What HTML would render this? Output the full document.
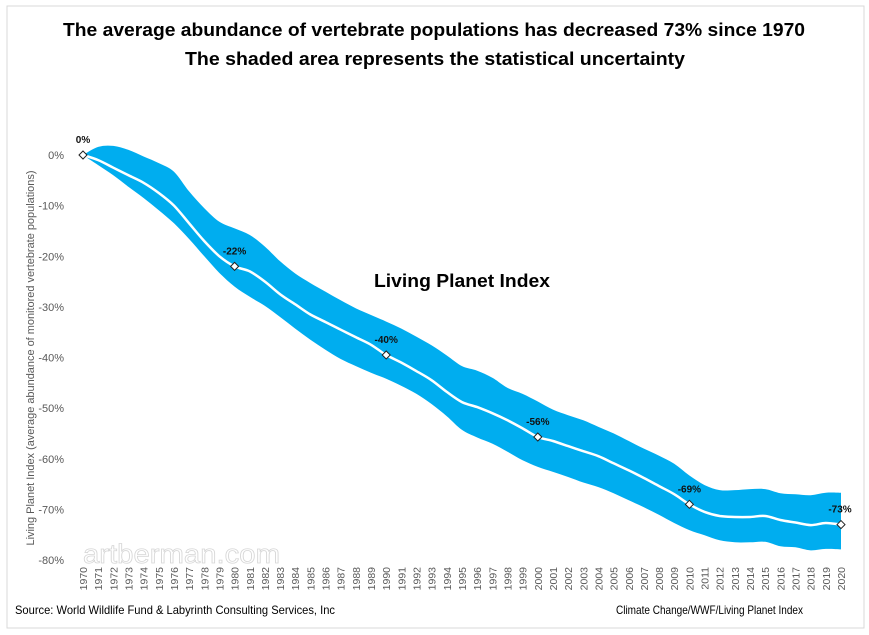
<!DOCTYPE html>
<html><head><meta charset="utf-8"><style>
html,body{margin:0;padding:0;background:#fff}
svg{display:block;font-family:"Liberation Sans",sans-serif}
</style></head><body>
<svg id="c" width="869" height="635" viewBox="0 0 869 635">
<rect x="7" y="6" width="857" height="622" fill="#fff" stroke="#d9d9d9"/>
<text x="434" y="36" text-anchor="middle" font-size="18" font-weight="bold" textLength="742" lengthAdjust="spacingAndGlyphs">The average abundance of vertebrate populations has decreased 73% since 1970</text>
<text x="435" y="65" text-anchor="middle" font-size="18" font-weight="bold" textLength="500" lengthAdjust="spacingAndGlyphs">The shaded area represents the statistical uncertainty</text>
<text transform="translate(34,358) rotate(-90)" text-anchor="middle" font-size="11" fill="#595959" textLength="375" lengthAdjust="spacingAndGlyphs">Living Planet Index (average abundance of monitored vertebrate populations)</text>
<text x="83" y="563" font-size="27" fill="none" stroke="#d6d6d6" stroke-width="0.8" textLength="197" lengthAdjust="spacingAndGlyphs">artberman.com</text>
<text x="462" y="287" text-anchor="middle" font-size="18" font-weight="bold" textLength="176" lengthAdjust="spacingAndGlyphs">Living Planet Index</text>
<text x="15" y="614" font-size="12" textLength="320" lengthAdjust="spacingAndGlyphs">Source: World Wildlife Fund &amp; Labyrinth Consulting Services, Inc</text>
<text x="616" y="614" font-size="12" textLength="187" lengthAdjust="spacingAndGlyphs">Climate Change/WWF/Living Planet Index</text>
<g id="plot"></g>
</svg>
<script>
const years=[1970,1971,1972,1973,1974,1975,1976,1977,1978,1979,1980,1981,1982,1983,1984,1985,1986,1987,1988,1989,1990,1991,1992,1993,1994,1995,1996,1997,1998,1999,2000,2001,2002,2003,2004,2005,2006,2007,2008,2009,2010,2011,2012,2013,2014,2015,2016,2017,2018,2019,2020];
const meanVals=[0,-1,-2.5,-4,-5.5,-7.5,-10,-13.5,-17,-20,-22,-23,-25,-27.5,-29.5,-31.5,-33,-34.5,-36,-37.5,-39.5,-41,-42.7,-44.5,-46.8,-48.8,-49.8,-51,-52.4,-54,-55.7,-56.5,-57.5,-58.5,-59.5,-60.9,-62.3,-63.8,-65.4,-67,-69,-70.5,-71.3,-71.5,-71.5,-71.3,-72.1,-72.6,-73.1,-72.7,-73];
const upperVals=[0,1.6,1.8,1,-0.3,-1.6,-3.3,-7.2,-10.5,-13.2,-14.5,-15.8,-18.1,-21,-23.4,-25.3,-27,-28.7,-30.3,-31.6,-32.9,-34.3,-35.9,-37.6,-39.6,-41.7,-42.6,-44,-46,-47.2,-48.7,-50.3,-51.4,-52.4,-53.7,-55,-56.5,-58,-59.4,-61,-63.3,-65.2,-66.2,-66.2,-66,-66,-66.8,-67,-67.2,-66.7,-66.7];
const lowerVals=[0,-2,-4,-6.3,-8.5,-10.9,-13.5,-16.6,-20,-23.3,-26,-28,-29.8,-32,-34.3,-36.5,-38.5,-40.3,-41.7,-43,-44.2,-45.6,-47.2,-49.2,-51.6,-54.3,-55.8,-57,-58.6,-60.3,-61.6,-62.6,-63.6,-64.7,-65.6,-66.8,-68.2,-69.6,-71.1,-72.7,-74.1,-75.1,-76.1,-76.5,-76.5,-76.4,-77.3,-77.5,-78.1,-77.8,-77.9];
const yTicks=[0,-10,-20,-30,-40,-50,-60,-70,-80];
const markerYears=[1970,1980,1990,2000,2010,2020];
const markerLabels=["0%","-22%","-40%","-56%","-69%","-73%"];

const NS="http://www.w3.org/2000/svg";
const g=document.getElementById('plot');
const x=yr=>83+(yr-1970)*(841-83)/50;
const y=v=>155+(-v)*(560-155)/80;
function mk(t,a){const e=document.createElementNS(NS,t);for(const k in a)e.setAttribute(k,a[k]);g.appendChild(e);return e;}
function smooth(pts){let d="M"+pts[0][0]+","+pts[0][1];for(let i=0;i<pts.length-1;i++){const p0=pts[Math.max(0,i-1)],p1=pts[i],p2=pts[i+1],p3=pts[Math.min(pts.length-1,i+2)];const c1=[p1[0]+(p2[0]-p0[0])/6,p1[1]+(p2[1]-p0[1])/6],c2=[p2[0]-(p3[0]-p1[0])/6,p2[1]-(p3[1]-p1[1])/6];d+=" C"+c1[0].toFixed(1)+","+c1[1].toFixed(1)+" "+c2[0].toFixed(1)+","+c2[1].toFixed(1)+" "+p2[0].toFixed(1)+","+p2[1].toFixed(1);}return d;}
yTicks.forEach(v=>{const t=mk('text',{x:64,y:y(v)+4,'text-anchor':'end','font-size':11,fill:'#595959'});t.textContent=v+"%";

});
years.forEach(yr=>{const t=mk('text',{transform:`translate(${x(yr)+4},567) rotate(-90)`,'text-anchor':'end','font-size':10.5,fill:'#595959'});t.textContent=yr;

});
const up=years.map((yr,i)=>[x(yr),y(upperVals[i])]);
const lo=years.map((yr,i)=>[x(yr),y(lowerVals[i])]).reverse();
let dU=smooth(up),dL=smooth(lo);
const band=mk('path',{d:dU+" L"+lo[0][0]+","+lo[0][1]+dL.replace(/^M[^C]*/," ")+" Z",fill:'#00adef'});


const line=mk('path',{d:smooth(years.map((yr,i)=>[x(yr),y(meanVals[i])])),fill:'none',stroke:'#fff','stroke-width':2.5});


markerYears.forEach((yr,j)=>{const i=years.indexOf(yr);const cx=x(yr),cy=y(meanVals[i]);
const m=mk('path',{d:`M${cx},${cy-4} L${cx+4},${cy} L${cx},${cy+4} L${cx-4},${cy} Z`,fill:'#fff',stroke:'#222','stroke-width':1});


const t=mk('text',{x:cx+(yr===2020?-1:0),y:cy-12,'text-anchor':'middle','font-size':10,'font-weight':'bold',fill:'#111'});t.textContent=markerLabels[j];

});
</script>
</body></html>
